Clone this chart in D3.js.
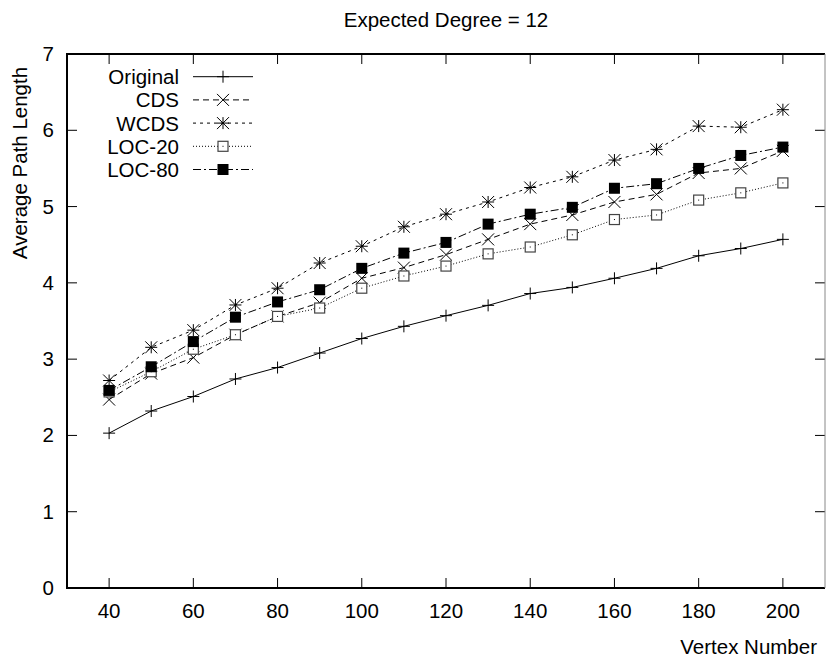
<!DOCTYPE html>
<html><head><meta charset="utf-8">
<script src="https://cdn.jsdelivr.net/npm/d3@7"></script>
<style>body{margin:0;background:#fff}svg{display:block}text{font-family:"Liberation Sans",Arial,sans-serif;fill:#000}</style>
</head><body>
<script>
const vertices = [40,50,60,70,80,90,100,110,120,130,140,150,160,170,180,190,200];
const original = [2.03,2.32,2.51,2.74,2.89,3.08,3.27,3.43,3.57,3.705,3.86,3.94,4.06,4.19,4.355,4.45,4.57];
const cds      = [2.47,2.81,3.02,3.32,3.56,3.74,4.06,4.20,4.37,4.57,4.77,4.89,5.06,5.16,5.44,5.50,5.73];
const wcds     = [2.72,3.155,3.38,3.71,3.93,4.26,4.48,4.735,4.90,5.06,5.25,5.39,5.61,5.75,6.055,6.04,6.27];
const loc20    = [2.57,2.835,3.13,3.32,3.56,3.67,3.93,4.09,4.22,4.38,4.47,4.63,4.83,4.89,5.085,5.18,5.31];
const loc80    = [2.59,2.90,3.23,3.55,3.75,3.91,4.19,4.39,4.53,4.77,4.90,4.99,5.24,5.30,5.50,5.67,5.78];
const seriesNames = ["Original","CDS","WCDS","LOC-20","LOC-80"];
const xTicks = [40,60,80,100,120,140,160,180,200];
const yTicks = [0,1,2,3,4,5,6,7];
const title = "Expected Degree = 12";
const xLabel = "Vertex Number";
const yLabel = "Average Path Length";

const W=826,H=660;
const L=67,R=825,T=54,B=588;
const FS=20.5;
const svg=d3.select("body").append("svg").attr("width",W).attr("height",H);
const x=d3.scaleLinear().domain([30,210]).range([L,R]);
const y=d3.scaleLinear().domain([0,7]).range([B,T]);

const styles=[
  {dash:null, marker:"plus"},
  {dash:"6,4", marker:"cross"},
  {dash:"3,4", marker:"star"},
  {dash:"1,2", marker:"square"},
  {dash:"8,3,2,3", marker:"fsquare"}
];
const data=[original,cds,wcds,loc20,loc80];

const tl=10;
const g=svg.append("g");
xTicks.forEach(t=>{
  g.append("line").attr("x1",x(t)).attr("x2",x(t)).attr("y1",B).attr("y2",B-tl).attr("stroke","#000").attr("stroke-width",1);
  g.append("line").attr("x1",x(t)).attr("x2",x(t)).attr("y1",T).attr("y2",T+tl).attr("stroke","#000").attr("stroke-width",1);
  g.append("text").attr("x",x(t)).attr("y",618).attr("text-anchor","middle").attr("font-size",FS).text(t);
});
yTicks.forEach(t=>{
  if(t>0&&t<7){
  g.append("line").attr("x1",L).attr("x2",L+tl).attr("y1",y(t)).attr("y2",y(t)).attr("stroke","#000").attr("stroke-width",1);
  g.append("line").attr("x1",R).attr("x2",R-tl).attr("y1",y(t)).attr("y2",y(t)).attr("stroke","#000").attr("stroke-width",1);
  }
  g.append("text").attr("x",54).attr("y",y(t)+7).attr("text-anchor","end").attr("font-size",FS).text(t);
});

svg.append("path").attr("d",`M${R},${T}H${L}V${B}H${R}`).attr("fill","none").attr("stroke","#000").attr("stroke-width",2);
svg.append("line").attr("x1",R).attr("x2",R).attr("y1",T).attr("y2",B).attr("stroke","#888").attr("stroke-width",1);

function marker(sel,type,cx,cy){
  const s=6;
  if(type==="plus"){
    sel.append("path").attr("d",`M${cx-s},${cy}H${cx+s}M${cx},${cy-s}V${cy+s}`).attr("stroke","#000").attr("stroke-width",1).attr("fill","none");
  } else if(type==="cross"){
    sel.append("path").attr("d",`M${cx-s},${cy-s}L${cx+s},${cy+s}M${cx-s},${cy+s}L${cx+s},${cy-s}`).attr("stroke","#000").attr("stroke-width",1).attr("fill","none");
  } else if(type==="star"){
    sel.append("path").attr("d",`M${cx-s},${cy}H${cx+s}M${cx},${cy-s}V${cy+s}M${cx-s},${cy-s}L${cx+s},${cy+s}M${cx-s},${cy+s}L${cx+s},${cy-s}`).attr("stroke","#000").attr("stroke-width",1).attr("fill","none");
  } else if(type==="square"){
    sel.append("rect").attr("x",cx-5).attr("y",cy-5).attr("width",10).attr("height",10).attr("fill","#fff").attr("stroke","#444").attr("stroke-width",1.2);
    sel.append("rect").attr("x",cx-0.5).attr("y",cy-0.5).attr("width",1).attr("height",1).attr("fill","#000");
  } else {
    sel.append("rect").attr("x",cx-5.5).attr("y",cy-5.5).attr("width",11).attr("height",11).attr("fill","#000");
  }
}

const line=d3.line().x((d,i)=>x(vertices[i])).y(d=>y(d));
data.forEach((arr,k)=>{
  const gs=svg.append("g");
  gs.append("path").datum(arr).attr("d",line).attr("fill","none").attr("stroke","#000").attr("stroke-width",1).attr("stroke-dasharray",styles[k].dash);
  arr.forEach((v,i)=>marker(gs,styles[k].marker,x(vertices[i]),y(v)));
});

seriesNames.forEach((n,k)=>{
  const cy=76.7+k*23.2;
  svg.append("text").attr("x",179).attr("y",cy+7.5).attr("text-anchor","end").attr("font-size",FS).text(n);
  svg.append("line").attr("x1",193).attr("x2",253).attr("y1",cy).attr("y2",cy).attr("stroke","#000").attr("stroke-width",1).attr("stroke-dasharray",styles[k].dash);
  marker(svg,styles[k].marker,223,cy);
});

svg.append("text").attr("x",(L+R)/2).attr("y",27).attr("text-anchor","middle").attr("font-size",FS).text(title);
svg.append("text").attr("x",817).attr("y",654).attr("text-anchor","end").attr("font-size",FS).text(xLabel);
svg.append("text").attr("transform","translate(27,163) rotate(-90)").attr("text-anchor","middle").attr("font-size",FS).text(yLabel);
</script>
</body></html>
